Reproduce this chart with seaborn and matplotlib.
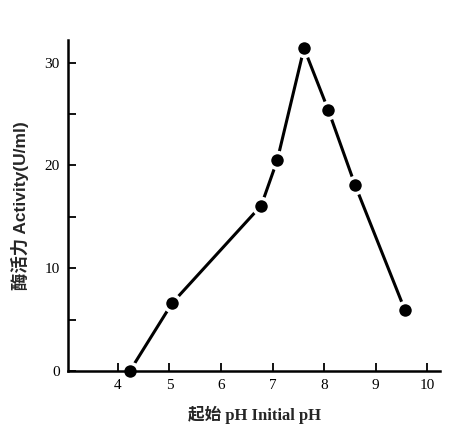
import matplotlib
matplotlib.use("Agg")
import matplotlib.pyplot as plt
import seaborn as sns
import pandas as pd
from matplotlib.ticker import MultipleLocator

ph = [4.23, 5.05, 6.78, 7.09, 7.61, 8.08, 8.6, 9.57]
activity = [0.0, 6.6, 16.1, 20.5, 31.4, 25.4, 18.1, 5.9]
x_ticks = [4, 5, 6, 7, 8, 9, 10]
y_ticks = [0, 10, 20, 30]

sns.set_theme(style="ticks")
plt.rcParams['font.family'] = ['Liberation Serif', 'Noto Sans CJK SC']

df = pd.DataFrame({"ph": ph, "activity": activity})

fig = plt.figure(figsize=(4.5, 4.3), dpi=100)
ax = fig.add_axes([0.151, 0.137, 0.827, 0.77])

sns.lineplot(data=df, x="ph", y="activity", ax=ax, color="black", lw=2.2,
             marker="o", markersize=11.5, markerfacecolor="black",
             markeredgecolor="white", markeredgewidth=2.5, clip_on=False)

ax.set_xlim(3.03, 10.25)
ax.set_ylim(0, 32.2)
ax.set_xticks(x_ticks)
ax.set_yticks(y_ticks)
ax.yaxis.set_minor_locator(MultipleLocator(5))
ax.tick_params(axis="both", which="both", direction="in", color="black",
               width=1.3, labelsize=11, labelcolor="black")
ax.tick_params(axis="both", which="major", length=6, pad=6)
ax.tick_params(axis="y", which="minor", length=6)
sns.despine(ax=ax)
for s in ["left", "bottom"]:
    ax.spines[s].set_linewidth(1.8)
    ax.spines[s].set_color("black")

ax.set_xlabel("起始 pH Initial pH", fontsize=12, fontweight="bold",
              family=["Liberation Serif", "Noto Sans CJK SC"], labelpad=10)
ax.set_ylabel("酶活力 Activity(U/ml)", fontsize=12.5, fontweight="bold",
              family=["Liberation Sans", "Noto Sans CJK SC"], labelpad=11)

fig.savefig("out.png", dpi=100, facecolor="white")
